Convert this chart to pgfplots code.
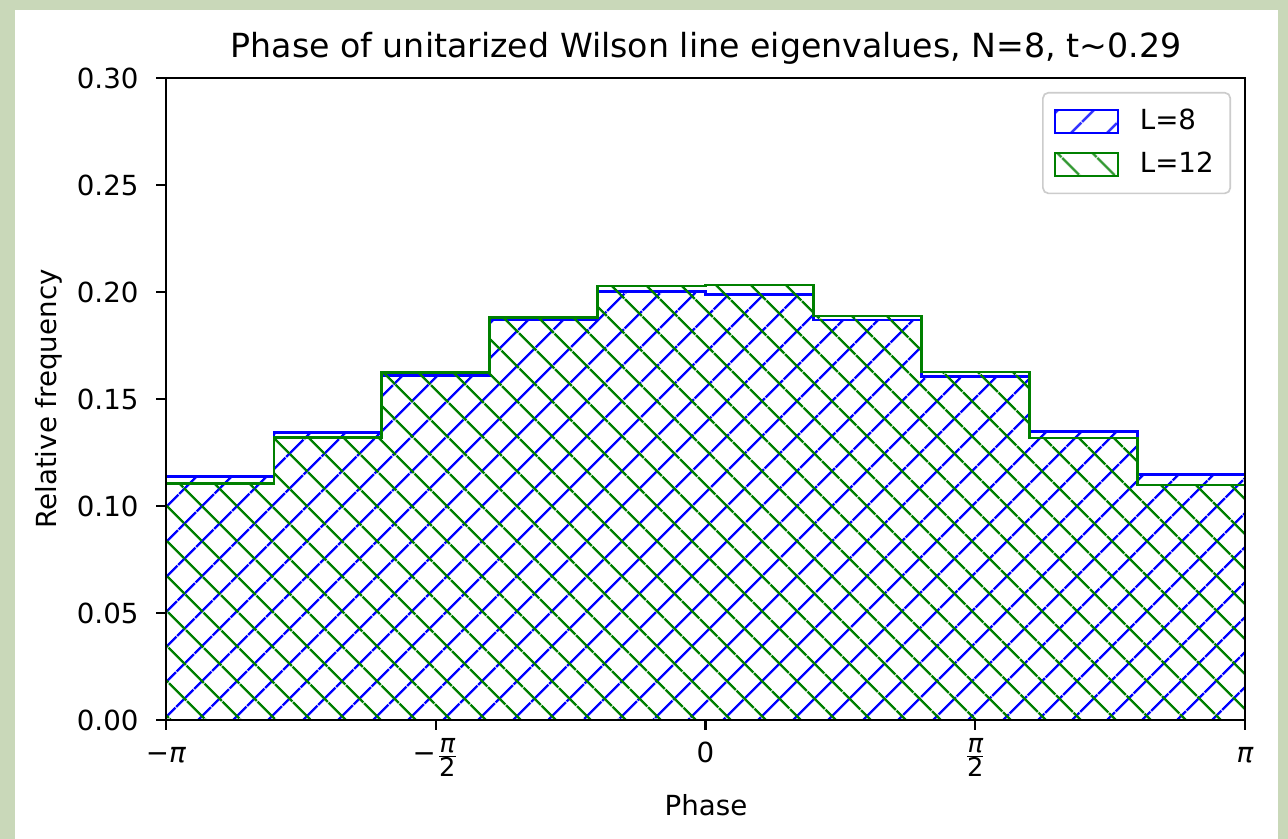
\documentclass[border=0pt]{standalone}
\usepackage{fontspec}
\setmainfont{DejaVu Sans}
\usepackage{pgfplots}
\pgfplotsset{compat=1.18}
\usetikzlibrary{patterns.meta}
\definecolor{bgborder}{HTML}{C9D8B9}
\definecolor{mplgreen}{HTML}{008000}
\definecolor{mplblue}{HTML}{0000FF}
\newcommand{\fr}[1]{\mbox{\fontsize{9.3}{10}\selectfont #1}}
\newcommand{\pifrac}{\frac{\fr{\itshape π}}{\fr{2}}}
\begin{document}
\begin{tikzpicture}
\fill[bgborder] (0bp,0bp) rectangle (463.68bp,302.04bp);
\fill[white] (5.4bp,0bp) rectangle (460.08bp,298.44bp);
\begin{axis}[
  at={(59.76bp,42.84bp)}, anchor=south west,
  scale only axis, width=388.44bp, height=231.12bp,
  xmin=-3.141593, xmax=3.141593, ymin=0, ymax=0.30,
  axis on top,
  axis line style={line width=0.8bp},
  tick style={line width=0.8bp, black},
  major tick length=3.5bp, tick align=outside,
  xtick pos=bottom, ytick pos=left,
  xtick={-3.141593,-1.570796,0,1.570796,3.141593},
  xticklabels={{−\textit{π}},{$\mbox{−}\pifrac$},{0},{$\pifrac$},{\textit{π}}},
  ytick={0,0.05,0.10,0.15,0.20,0.25,0.30},
  /pgf/number format/fixed, /pgf/number format/fixed zerofill, /pgf/number format/precision=2, /pgf/number format/assume math mode=true,
  y tick label style={anchor=east, inner sep=0pt, xshift=-6.2bp, font=\fontsize{10}{12}\selectfont},
  x tick label style={anchor=base, inner sep=0pt, yshift=-11.98bp, font=\fontsize{10}{12}\selectfont},
  scaled y ticks=false,
  legend style={at={(rel axis cs:1,1)}, anchor=north east, xshift=-5bp, yshift=-5bp,
    draw=black!20, line width=0.6bp, rounded corners=2bp, fill=white, fill opacity=0.8, text opacity=1,
    inner xsep=4bp, inner ysep=4bp, row sep=2.5bp, font=\fontsize{10}{12}\selectfont,
    cells={anchor=west}},
  legend image code/.code={\draw[#1, sharp corners, line width=0.8bp] (0bp,-4.15bp) rectangle (22.7bp,4.15bp); \path (28bp,0bp);},
]
\addplot[const plot, draw=mplblue, line width=1bp, pattern={Lines[angle=45,distance=9.26bp,line width=0.95bp]}, pattern color=mplblue]
coordinates {(-3.141593,0.1137) (-2.513274,0.1343) (-1.884956,0.1611) (-1.256637,0.1869) (-0.628319,0.2003) (0,0.1989) (0.628319,0.1869) (1.256637,0.1604) (1.884956,0.1349) (2.513274,0.1146) (3.141593,0.1146)} \closedcycle;
\addlegendentry{L=8}
\addplot[const plot, draw=mplgreen, line width=1bp, pattern={Lines[angle=-45,distance=9.26bp,line width=0.95bp]}, pattern color=mplgreen]
coordinates {(-3.141593,0.1104) (-2.513274,0.1321) (-1.884956,0.1625) (-1.256637,0.1882) (-0.628319,0.2028) (0,0.2033) (0.628319,0.1888) (1.256637,0.1626) (1.884956,0.1318) (2.513274,0.1098) (3.141593,0.1098)} \closedcycle;
\addlegendentry{L=12}
\end{axis}
\node[anchor=base, font=\fontsize{12}{14}\selectfont] at (254.16bp,281.16bp) {Phase of unitarized Wilson line eigenvalues, N=8, t\textasciitilde 0.29};
\node[anchor=base, font=\fontsize{10}{12}\selectfont] at (254.16bp,8.64bp) {Phase};
\node[rotate=90, font=\fontsize{10}{12}\selectfont] at (17.64bp,158.4bp) {Relative frequency};
\end{tikzpicture}
\end{document}
